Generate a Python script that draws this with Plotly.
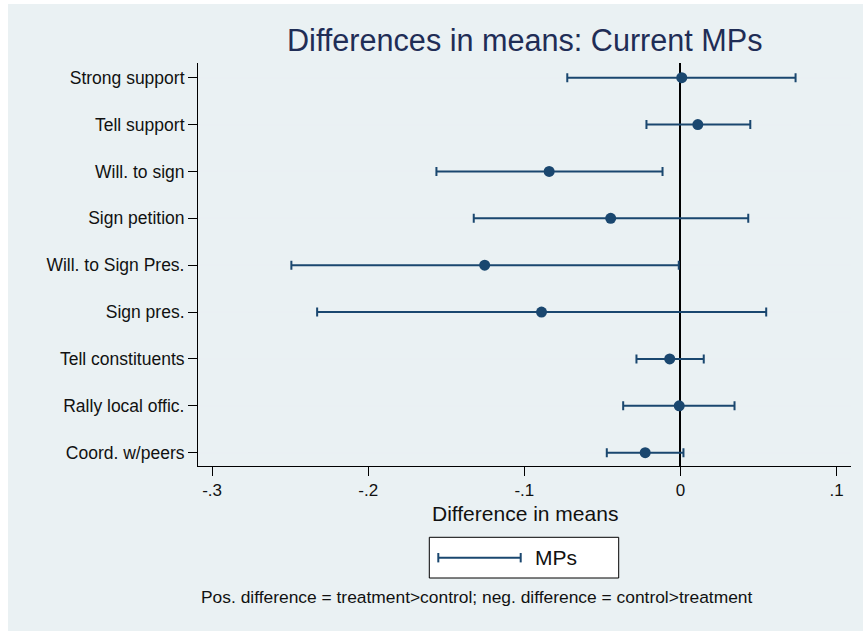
import plotly.graph_objects as go

# ---- data ----
labels = ["Strong support", "Tell support", "Will. to sign", "Sign petition",
          "Will. to Sign Pres.", "Sign pres.", "Tell constituents",
          "Rally local offic.", "Coord. w/peers"]
estimate = [0.0008, 0.0111, -0.0841, -0.0447, -0.1254, -0.0890, -0.0069, -0.0008, -0.0226]
ci_low   = [-0.0725, -0.0218, -0.1563, -0.1324, -0.2492, -0.2327, -0.0282, -0.0367, -0.0472]
ci_high  = [0.0737, 0.0447, -0.0115, 0.0434, -0.0011, 0.0549, 0.0149, 0.0346, 0.0019]
x_tickvals = [-0.3, -0.2, -0.1, 0.0, 0.1]
x_ticktext = ["-.3", "-.2", "-.1", "0", ".1"]
series_name = "MPs"

title_text = "Differences in means: Current MPs"
xtitle_text = "Difference in means"
note_text = "Pos. difference = treatment>control; neg. difference = control>treatment"

# ---- layout geometry (pixels) ----
W, H = 863, 631
L, R, T, B = 198, 851, 63, 466
FONT = "Liberation Sans, Arial, Helvetica, sans-serif"
NAVY = "#1A476F"
BG = "#EAF1F3"


def px_x(p):
    return (p - L) / (R - L)


def px_y(p):
    return (B - p) / (B - T)


positions = list(range(1, len(labels) + 1))
err_plus = [h - e for h, e in zip(ci_high, estimate)]
err_minus = [e - l for e, l in zip(estimate, ci_low)]

fig = go.Figure()
fig.add_trace(go.Scatter(
    x=estimate, y=positions, mode="markers", name=series_name,
    marker=dict(size=11, color=NAVY),
    error_x=dict(type="data", array=err_plus, arrayminus=err_minus,
                 color=NAVY, thickness=2, width=4.5),
    showlegend=False,
))

shapes = [
    # graph region background
    dict(type="rect", xref="paper", yref="paper",
         x0=px_x(8), x1=px_x(W + 5), y0=px_y(4), y1=px_y(H + 5),
         fillcolor=BG, line=dict(width=0), layer="below"),
    # legend box
    dict(type="rect", xref="paper", yref="paper",
         x0=px_x(429.3), x1=px_x(618.7), y0=px_y(537.3), y1=px_y(578),
         fillcolor="white", line=dict(color="black", width=1)),
    # legend key line
    dict(type="line", xref="paper", yref="paper",
         x0=px_x(438.3), x1=px_x(520.7), y0=px_y(557.7), y1=px_y(557.7),
         line=dict(color=NAVY, width=2)),
    dict(type="line", xref="paper", yref="paper",
         x0=px_x(438.3), x1=px_x(438.3), y0=px_y(553), y1=px_y(562.4),
         line=dict(color=NAVY, width=2)),
    dict(type="line", xref="paper", yref="paper",
         x0=px_x(520.7), x1=px_x(520.7), y0=px_y(553), y1=px_y(562.4),
         line=dict(color=NAVY, width=2)),
]

annotations = [
    dict(text=title_text, xref="paper", yref="paper", x=px_x(524.5), y=px_y(40),
         xanchor="center", yanchor="middle", showarrow=False,
         font=dict(family=FONT, size=30.6, color="#1F2D56")),
    dict(text=xtitle_text, xref="paper", yref="paper", x=px_x(524.5), y=px_y(513),
         xanchor="center", yanchor="middle", showarrow=False,
         font=dict(family=FONT, size=21, color="#111111")),
    dict(text=series_name, xref="paper", yref="paper", x=px_x(533), y=px_y(557.7),
         xanchor="left", yanchor="middle", showarrow=False,
         font=dict(family=FONT, size=21, color="#111111")),
    dict(text=note_text, xref="paper", yref="paper", x=px_x(199), y=px_y(596.5),
         xanchor="left", yanchor="middle", showarrow=False,
         font=dict(family=FONT, size=17.4, color="#111111")),
]

fig.update_layout(
    width=W, height=H,
    margin=dict(l=L, r=W - R, t=T, b=H - B, pad=0),
    paper_bgcolor="white", plot_bgcolor="white",
    shapes=shapes, annotations=annotations,
    showlegend=False,
    xaxis=dict(range=[-0.309, 0.1092], tickvals=x_tickvals, ticktext=x_ticktext,
               ticks="outside", ticklen=9, tickwidth=1, tickcolor="black",
               showline=True, linecolor="black", linewidth=1,
               showgrid=False, zeroline=True, zerolinecolor="black", zerolinewidth=2,
               tickfont=dict(family=FONT, size=17, color="#111111")),
    yaxis=dict(range=[9.284, 0.686], tickvals=positions, ticktext=labels,
               ticks="outside", ticklen=9, tickwidth=1, tickcolor="black",
               showline=True, linecolor="black", linewidth=1,
               showgrid=True, gridcolor="#EAF0F3", gridwidth=1.5, zeroline=False,
               tickfont=dict(family=FONT, size=17.5, color="#111111")),
)

fig.write_html("out.html")
